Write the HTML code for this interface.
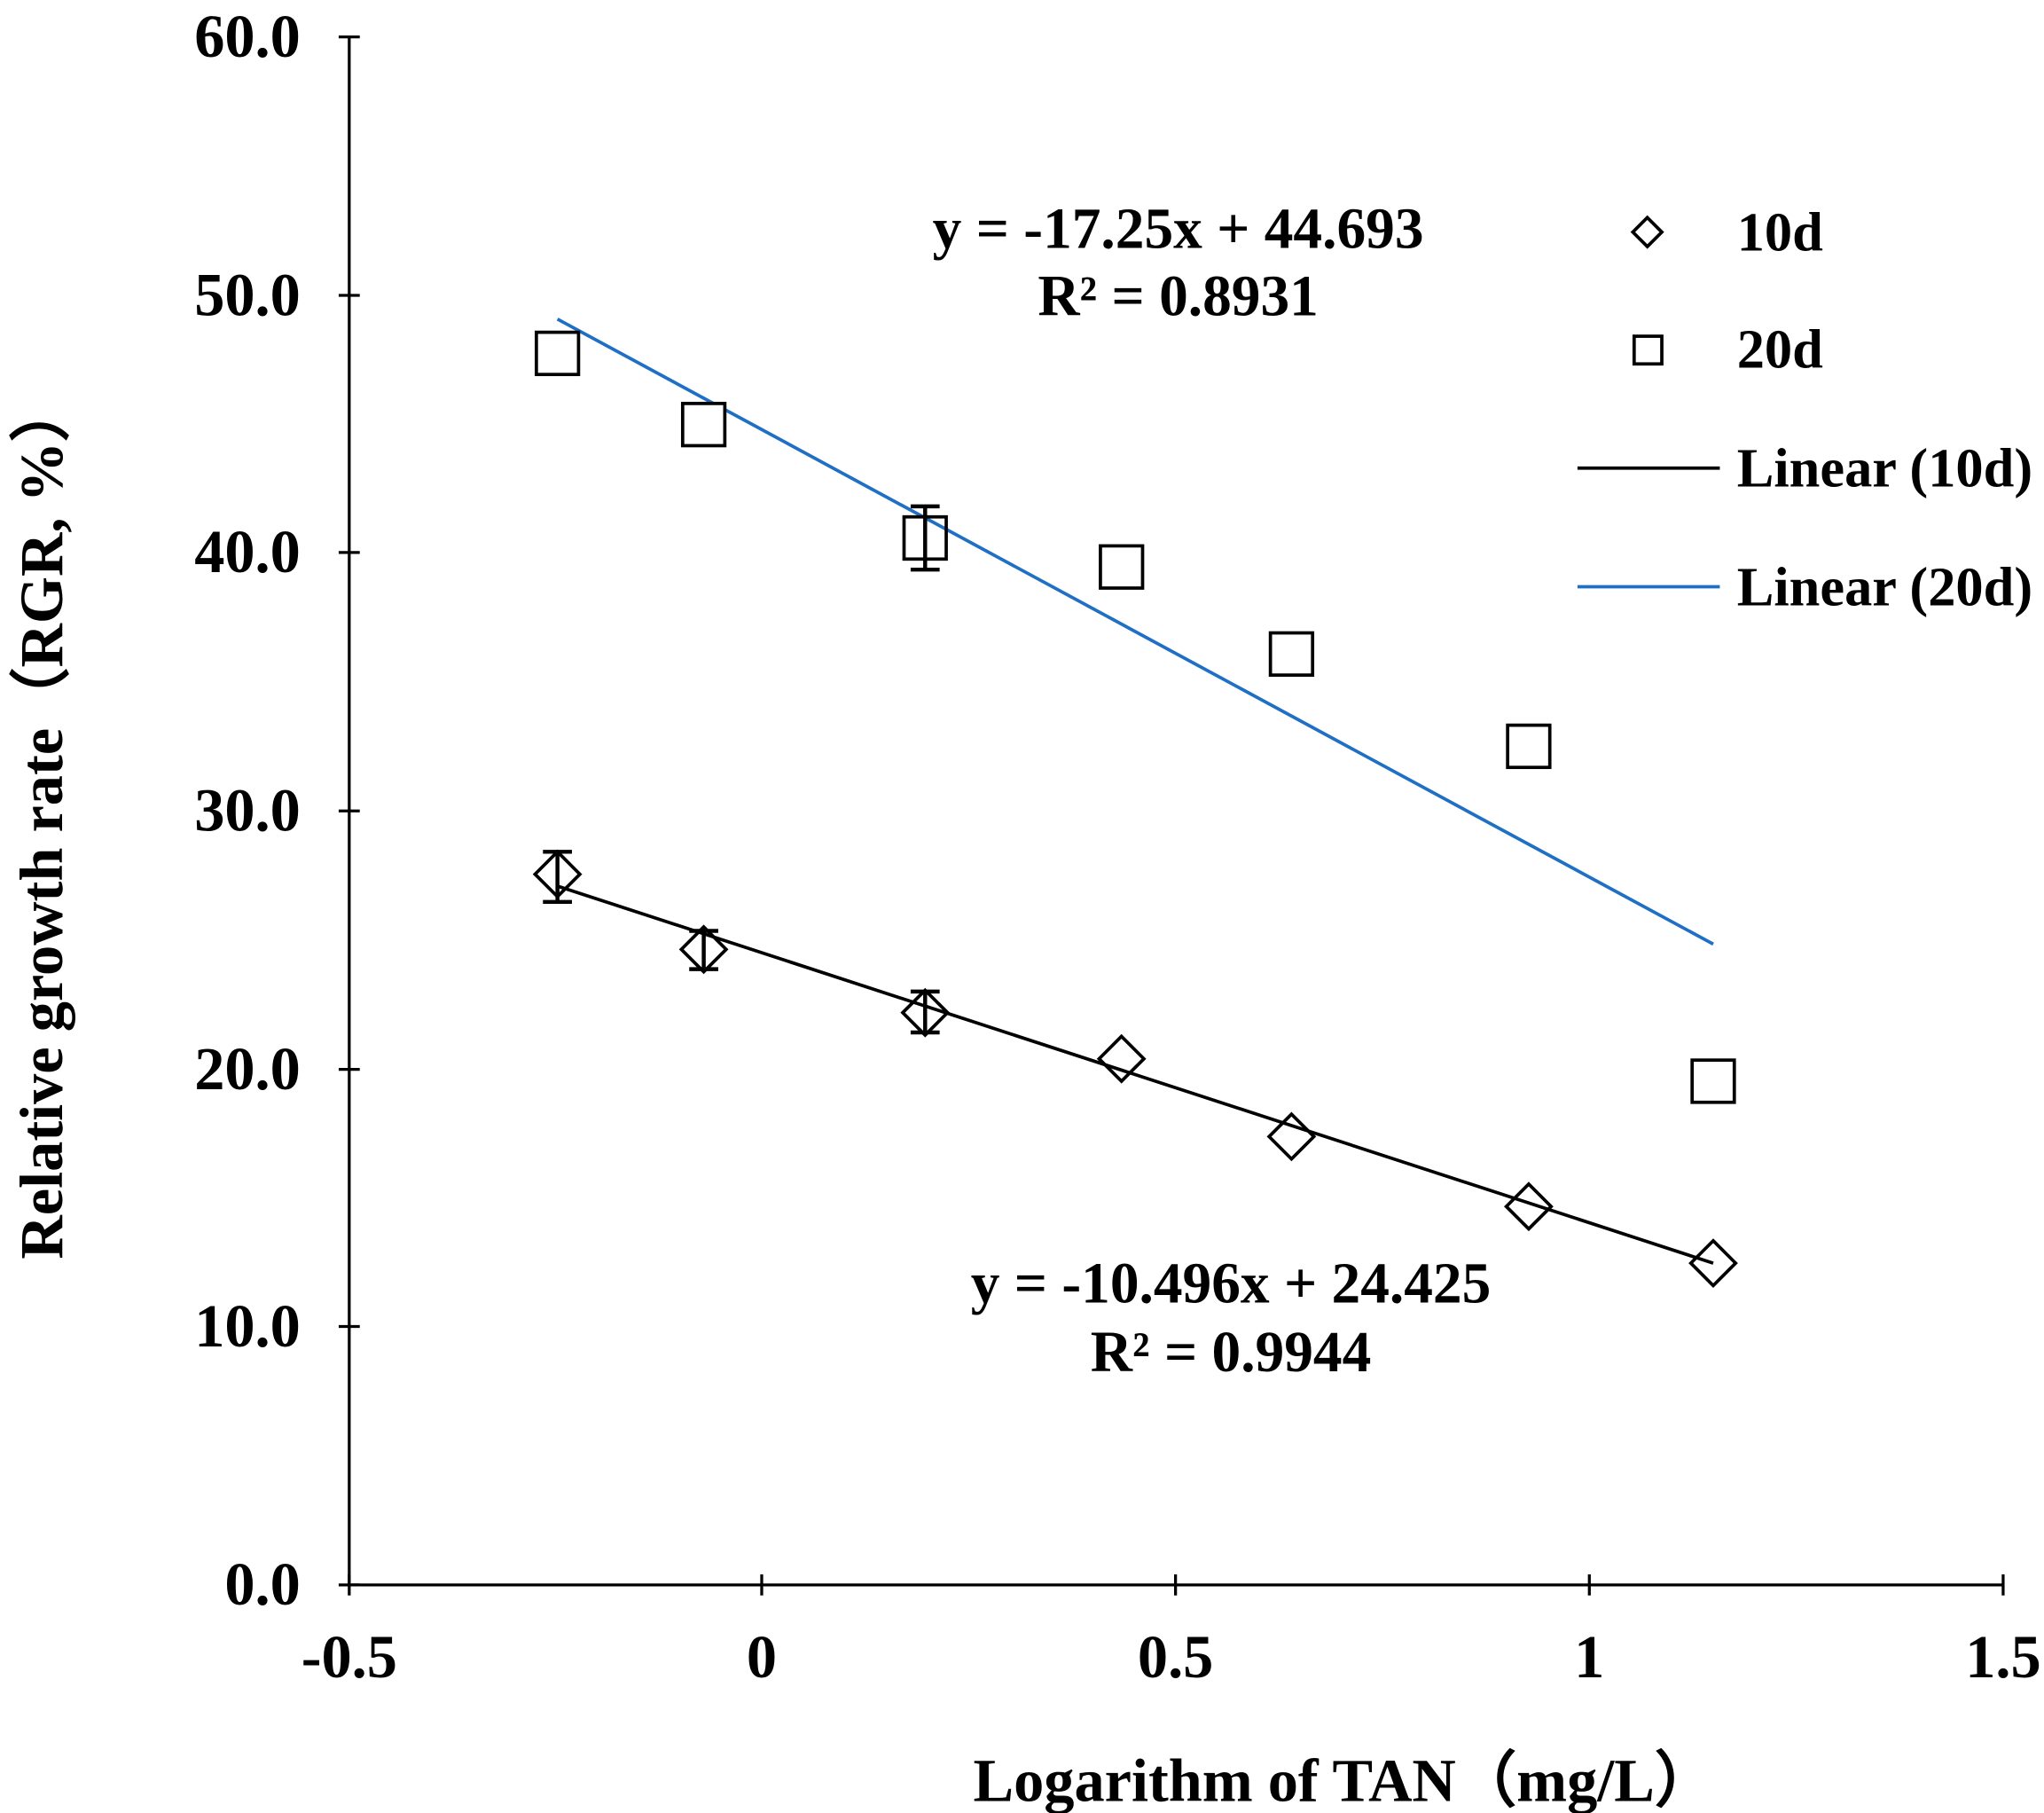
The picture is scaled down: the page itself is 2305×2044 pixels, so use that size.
<!DOCTYPE html>
<html><head><style>html,body{margin:0;padding:0;background:#fff;}svg{display:block}</style></head>
<body>
<svg width="2305" height="2044" viewBox="0 0 1551 1375" preserveAspectRatio="none" xmlns="http://www.w3.org/2000/svg" font-family="Liberation Serif, serif" font-weight="bold">
<g stroke="#000" stroke-width="2.2" fill="none">
<line x1="265" y1="28" x2="265" y2="1202"/>
<line x1="265" y1="1202" x2="1520" y2="1202"/>
<line x1="257" y1="28" x2="273" y2="28"/>
<line x1="257" y1="224" x2="273" y2="224"/>
<line x1="257" y1="419" x2="273" y2="419"/>
<line x1="257" y1="615" x2="273" y2="615"/>
<line x1="257" y1="811" x2="273" y2="811"/>
<line x1="257" y1="1006" x2="273" y2="1006"/>
<line x1="257" y1="1202" x2="273" y2="1202"/>
<line x1="265" y1="1194" x2="265" y2="1210"/>
<line x1="578" y1="1194" x2="578" y2="1210"/>
<line x1="892" y1="1194" x2="892" y2="1210"/>
<line x1="1206" y1="1194" x2="1206" y2="1210"/>
<line x1="1520" y1="1194" x2="1520" y2="1210"/>
</g>
<g font-size="46" text-anchor="end">
<text x="228" y="43">60.0</text><text x="228" y="239">50.0</text><text x="228" y="434">40.0</text>
<text x="228" y="630">30.0</text><text x="228" y="826">20.0</text><text x="228" y="1021">10.0</text><text x="228" y="1217">0.0</text>
</g>
<g font-size="46" text-anchor="middle">
<text x="265" y="1272">-0.5</text><text x="578" y="1272">0</text><text x="892" y="1272">0.5</text>
<text x="1206" y="1272">1</text><text x="1520" y="1272">1.5</text>
<text x="1020" y="1366">Logarithm of TAN（mg/L）</text>
<text transform="translate(47,622) rotate(-90)">Relative growth rate（RGR, %）</text>
</g>
<g font-size="44" text-anchor="middle">
<text x="894" y="188">y = -17.25x + 44.693</text>
<text x="894" y="239">R² = 0.8931</text>
<text x="934" y="988">y = -10.496x + 24.425</text>
<text x="934" y="1040">R² = 0.9944</text>
</g>
<line x1="423" y1="242" x2="1300" y2="716" stroke="#1f6fc5" stroke-width="2.5"/>
<line x1="423" y1="672" x2="1300" y2="958" stroke="#000" stroke-width="2.5"/>
<g stroke="#000" stroke-width="3" fill="none">
<path d="M423 646V684M412 646H434M412 684H434"/>
<path d="M534 706V735M523 706H545M523 735H545"/>
<path d="M702 752V783M691 752H713M691 783H713"/>
<path d="M702 384V432M691 384H713M691 432H713"/>
</g>
<g stroke="#000" stroke-width="2.5" fill="#fff">
<rect x="407" y="252" width="32" height="32"/><rect x="518" y="306" width="32" height="32"/>
<rect x="686" y="392" width="32" height="32" fill="none"/><rect x="835" y="414" width="32" height="32"/>
<rect x="964" y="480" width="32" height="32"/><rect x="1144" y="550" width="32" height="32"/>
<rect x="1284" y="804" width="32" height="32"/>
<g fill="none">
<path d="M423 646l17 17-17 17-17-17z"/><path d="M534 703l17 17-17 17-17-17z"/>
<path d="M702 751l17 17-17 17-17-17z"/><path d="M851 786l17 17-17 17-17-17z"/>
<path d="M980 845l17 17-17 17-17-17z"/><path d="M1160 898l17 17-17 17-17-17z"/>
<path d="M1300 941l17 17-17 17-17-17z"/>
<path d="M1250 165l11 11-11 11-11-11z"/>
<rect x="1240" y="255" width="21" height="21"/>
</g>
</g>
<line x1="1197" y1="355" x2="1305" y2="355" stroke="#000" stroke-width="2.5"/>
<line x1="1197" y1="445" x2="1305" y2="445" stroke="#1f6fc5" stroke-width="2.5"/>
<g font-size="42">
<text x="1318" y="190">10d</text><text x="1318" y="279">20d</text>
<text x="1318" y="369">Linear (10d)</text><text x="1318" y="459">Linear (20d)</text>
</g>
</svg>
</body></html>
